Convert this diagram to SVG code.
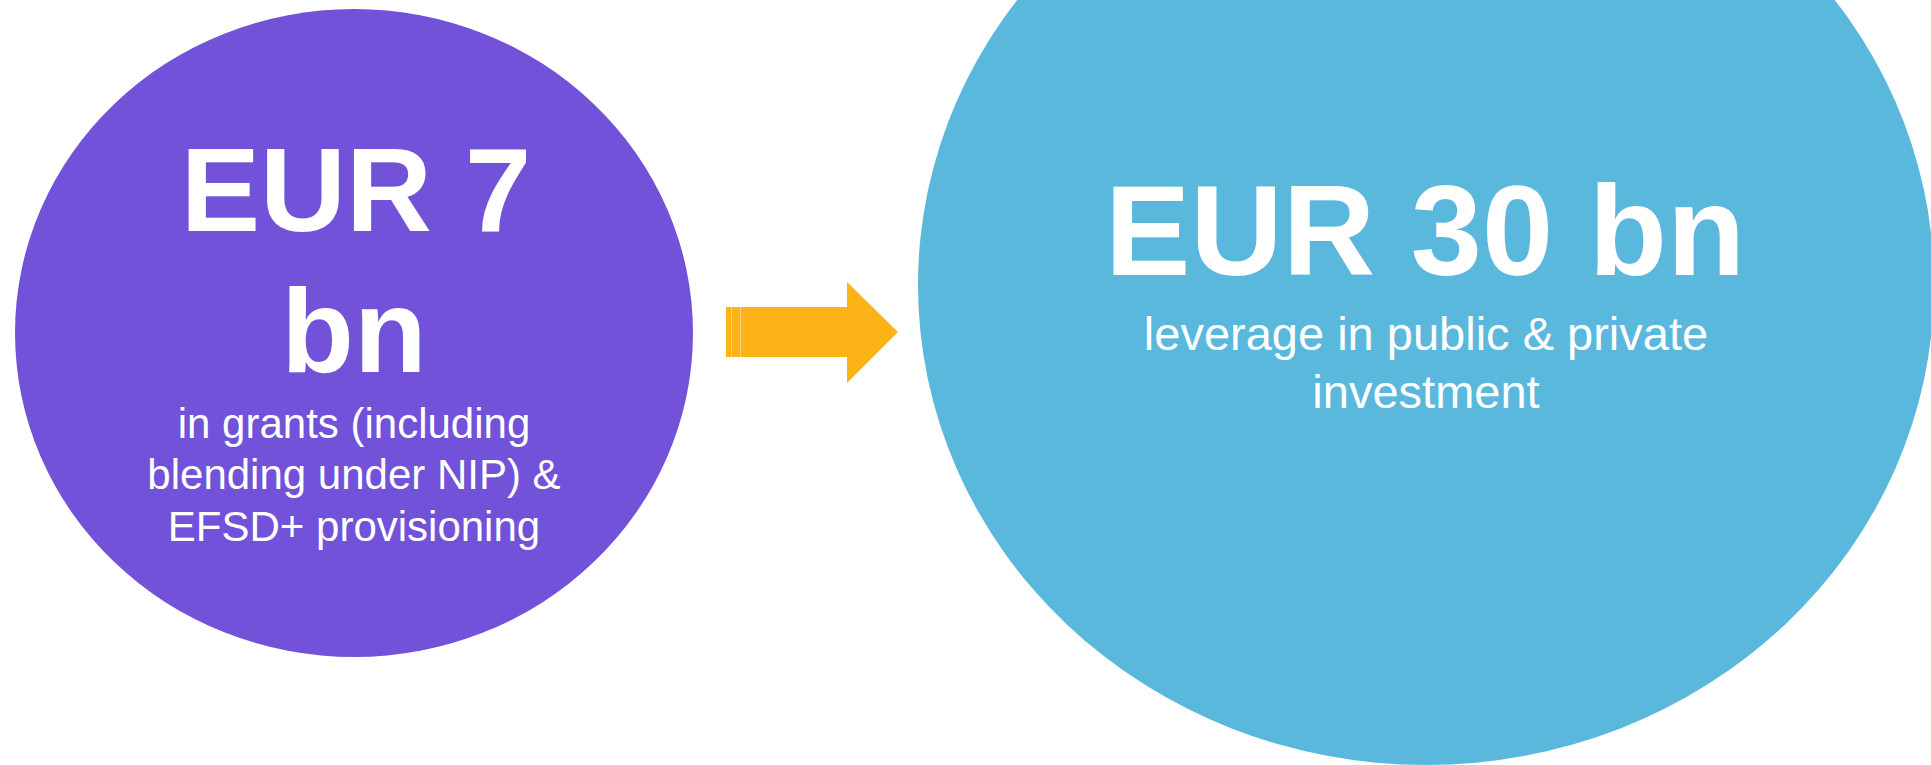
<svg xmlns="http://www.w3.org/2000/svg" width="1931" height="765" viewBox="0 0 1931 765">
  <style>
    .big { font-family: "Liberation Sans", Arial, sans-serif; font-weight: bold; fill: #ffffff; text-anchor: middle; }
    .sub { font-family: "Liberation Sans", Arial, sans-serif; fill: #ffffff; text-anchor: middle; }
    .gap { stroke: #fdd27c; stroke-width: 1; }
  </style>
  <rect x="0" y="0" width="1931" height="765" fill="#ffffff"/>
  <g id="node-grants">
    <ellipse cx="354" cy="333" rx="339" ry="324" fill="#7152d8"/>
    <text class="big" x="356" y="231" font-size="119">EUR 7</text>
    <text class="big" x="354" y="372" font-size="119">bn</text>
    <text class="sub" x="354" y="438" font-size="42">in grants (including</text>
    <text class="sub" x="354" y="489" font-size="42">blending under NIP) &amp;</text>
    <text class="sub" x="354" y="541" font-size="42">EFSD+ provisioning</text>
  </g>
  <g id="node-leverage">
    <ellipse cx="1426" cy="285" rx="508" ry="480" fill="#5bb8dd"/>
    <text class="big" x="1425" y="275" font-size="128">EUR 30 bn</text>
    <text class="sub" x="1426" y="350" font-size="47">leverage in public &amp; private</text>
    <text class="sub" x="1426" y="408" font-size="47">investment</text>
  </g>
  <g id="connectors">
    <polygon points="726,307 847,307 847,282 898,332 847,383 847,357 726,357" fill="#fbb318"/>
    <line class="gap" x1="731.5" y1="307" x2="731.5" y2="357"/>
    <line class="gap" x1="740.5" y1="307" x2="740.5" y2="357"/>
  </g>
</svg>
